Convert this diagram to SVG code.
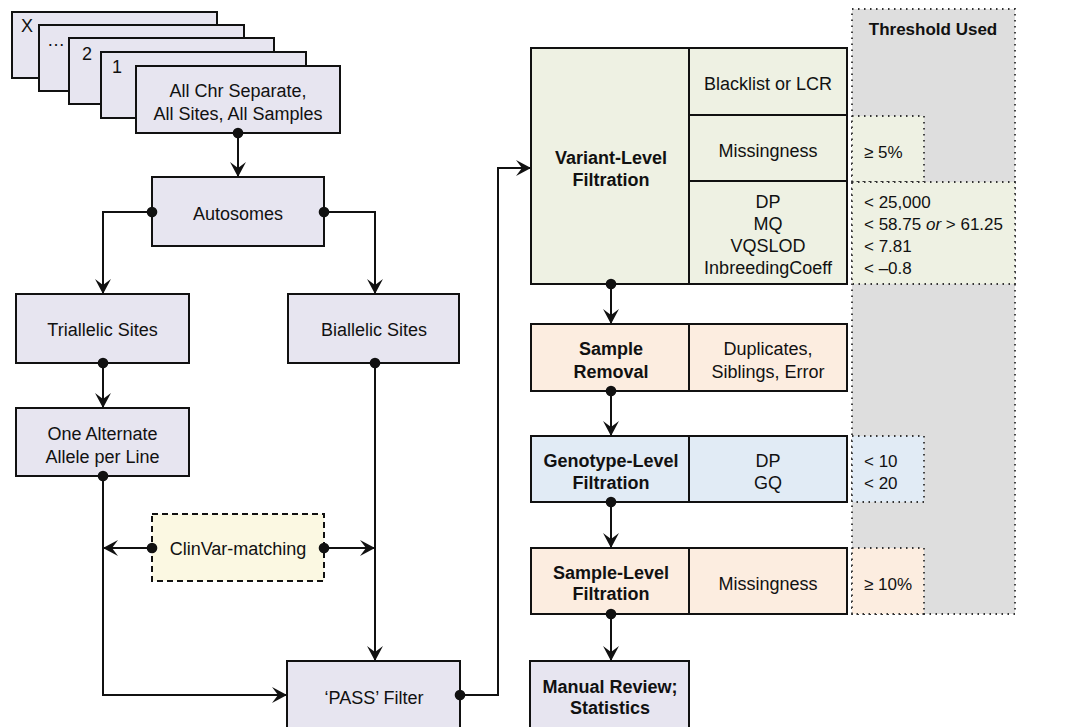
<svg xmlns="http://www.w3.org/2000/svg" width="1068" height="727" viewBox="0 0 1068 727">
<style>
text{font-family:"Liberation Sans",Arial,sans-serif;font-size:18px;fill:#111}
.t{font-size:17px}
.b{font-weight:bold}
.c{text-anchor:middle}
.box{stroke:#111;stroke-width:2}
.lav{fill:#e7e5f0}
.grn{fill:#eef1e3}
.pch{fill:#fcede0}
.blu{fill:#e1ebf5}
.yel{fill:#fbf8e2}
.dot{stroke:#333;stroke-width:1.8;stroke-dasharray:1.5 4.5}
.e{fill:none;stroke:#111;stroke-width:2}
</style>
<defs>
<marker id="arr" viewBox="-16 -9 18 18" refX="0" refY="0" markerWidth="18" markerHeight="18" markerUnits="userSpaceOnUse" orient="auto">
<path d="M0,0 L-15,-8 L-9,0 L-15,8 Z" fill="#111"/>
</marker>
<marker id="dt" viewBox="-6 -6 12 12" refX="0" refY="0" markerWidth="12" markerHeight="12" markerUnits="userSpaceOnUse" orient="auto">
<circle r="5.3" fill="#111"/>
</marker>
</defs>

<g id="threshold-column">
<rect x="852" y="9" width="163" height="605" fill="#dedede" class="dot"/>
<text x="933" y="35" class="b c t">Threshold Used</text>
</g>

<g id="stack">
<rect x="12" y="12" width="205" height="66" class="box lav"/>
<text x="21" y="32">X</text>
<rect x="39" y="25" width="205" height="66" class="box lav"/>
<text x="47" y="46">…</text>
<rect x="69" y="38" width="205" height="66" class="box lav"/>
<text x="82" y="60">2</text>
<rect x="101" y="52" width="205" height="66" class="box lav"/>
<text x="112" y="73">1</text>
</g>
<g id="all-chr">
<rect x="136" y="66" width="204" height="67" class="box lav"/>
<text x="238" y="97" class="c">All Chr Separate,</text>
<text x="238" y="120" class="c">All Sites, All Samples</text>
</g>
<g id="autosomes">
<rect x="152" y="177" width="172" height="69" class="box lav"/>
<text x="238" y="220" class="c">Autosomes</text>
</g>
<g id="triallelic">
<rect x="16" y="294" width="173" height="69" class="box lav"/>
<text x="102.5" y="336" class="c">Triallelic Sites</text>
</g>
<g id="biallelic">
<rect x="288" y="294" width="171" height="69" class="box lav"/>
<text x="374" y="336" class="c">Biallelic Sites</text>
</g>
<g id="one-alt">
<rect x="16" y="408" width="173" height="68" class="box lav"/>
<text x="102.5" y="440" class="c">One Alternate</text>
<text x="102.5" y="463" class="c">Allele per Line</text>
</g>
<g id="clinvar">
<rect x="152" y="514" width="172" height="67" class="yel" stroke="#111" stroke-width="2" stroke-dasharray="6 4"/>
<text x="238" y="555" class="c">ClinVar-matching</text>
</g>
<g id="pass">
<rect x="287" y="661" width="173" height="70" class="box lav"/>
<text x="374" y="704" class="c">‘PASS’ Filter</text>
</g>

<g id="variant">
<rect x="531" y="48" width="316" height="236" class="box grn"/>
<line x1="689" y1="48" x2="689" y2="284" class="box"/>
<line x1="689" y1="115" x2="847" y2="115" class="box"/>
<line x1="689" y1="181" x2="847" y2="181" class="box"/>
<text x="611" y="164" class="b c">Variant-Level</text>
<text x="611" y="186" class="b c">Filtration</text>
<text x="768" y="90" class="c">Blacklist or LCR</text>
<text x="768" y="157" class="c">Missingness</text>
<text x="768" y="208" class="c">DP</text>
<text x="768" y="230" class="c">MQ</text>
<text x="768" y="252" class="c">VQSLOD</text>
<text x="768" y="274" class="c">InbreedingCoeff</text>
</g>
<g id="variant-thresholds">
<rect x="852" y="116" width="72" height="66" class="grn dot"/>
<text x="864" y="158" class="t">≥ 5%</text>
<rect x="852" y="182" width="163" height="102" class="grn dot"/>
<text x="864" y="208" class="t">&lt; 25,000</text>
<text x="864" y="230" class="t">&lt; 58.75 <tspan font-style="italic">or</tspan> &gt; 61.25</text>
<text x="864" y="252" class="t">&lt; 7.81</text>
<text x="864" y="274" class="t">&lt; –0.8</text>
</g>

<g id="sample-removal">
<rect x="531" y="324" width="316" height="67" class="box pch"/>
<line x1="689" y1="324" x2="689" y2="391" class="box"/>
<text x="611" y="355" class="b c">Sample</text>
<text x="611" y="378" class="b c">Removal</text>
<text x="768" y="355" class="c">Duplicates,</text>
<text x="768" y="378" class="c">Siblings, Error</text>
</g>

<g id="genotype">
<rect x="531" y="436" width="316" height="66" class="box blu"/>
<line x1="689" y1="436" x2="689" y2="502" class="box"/>
<text x="611" y="467" class="b c">Genotype-Level</text>
<text x="611" y="489" class="b c">Filtration</text>
<text x="768" y="467" class="c">DP</text>
<text x="768" y="489" class="c">GQ</text>
<rect x="852" y="436" width="72" height="66" class="blu dot"/>
<text x="864" y="467" class="t">&lt; 10</text>
<text x="864" y="489" class="t">&lt; 20</text>
</g>

<g id="sample-level">
<rect x="531" y="548" width="316" height="66" class="box pch"/>
<line x1="689" y1="548" x2="689" y2="614" class="box"/>
<text x="611" y="579" class="b c">Sample-Level</text>
<text x="611" y="600" class="b c">Filtration</text>
<text x="768" y="590" class="c">Missingness</text>
<rect x="852" y="548" width="72" height="66" class="pch dot"/>
<text x="864" y="590" class="t">≥ 10%</text>
</g>

<g id="manual">
<rect x="530" y="661" width="159" height="70" class="box lav"/>
<text x="610" y="693" class="b c">Manual Review;</text>
<text x="610" y="714" class="b c">Statistics</text>
</g>

<g id="connectors">
<path d="M238,133 V177" class="e" marker-start="url(#dt)" marker-end="url(#arr)"/>
<path d="M152,212 H103 V294" class="e" marker-start="url(#dt)" marker-end="url(#arr)"/>
<path d="M324,212 H375 V294" class="e" marker-start="url(#dt)" marker-end="url(#arr)"/>
<path d="M103,363 V408" class="e" marker-start="url(#dt)" marker-end="url(#arr)"/>
<path d="M375,363 V661" class="e" marker-start="url(#dt)" marker-end="url(#arr)"/>
<path d="M103,476 V695 H287" class="e" marker-start="url(#dt)" marker-end="url(#arr)"/>
<path d="M152,548 H103" class="e" marker-start="url(#dt)" marker-end="url(#arr)"/>
<path d="M324,548 H375" class="e" marker-start="url(#dt)" marker-end="url(#arr)"/>
<path d="M460,695 H498 V168 H531" class="e" marker-start="url(#dt)" marker-end="url(#arr)"/>
<path d="M611,284 V324" class="e" marker-start="url(#dt)" marker-end="url(#arr)"/>
<path d="M611,391 V436" class="e" marker-start="url(#dt)" marker-end="url(#arr)"/>
<path d="M611,502 V548" class="e" marker-start="url(#dt)" marker-end="url(#arr)"/>
<path d="M611,614 V661" class="e" marker-start="url(#dt)" marker-end="url(#arr)"/>
</g>
</svg>
